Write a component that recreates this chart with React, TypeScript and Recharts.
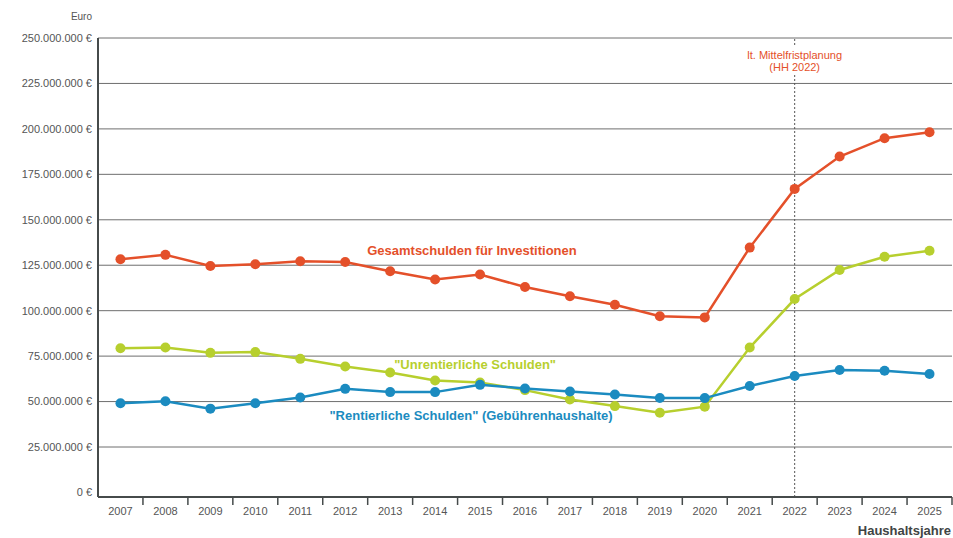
import React from 'react';
import { LineChart, Line, XAxis, YAxis, ReferenceLine, ReferenceDot } from 'recharts';

const years = ['2007', '2008', '2009', '2010', '2011', '2012', '2013', '2014', '2015', '2016', '2017', '2018', '2019', '2020', '2021', '2022', '2023', '2024', '2025'];
// values in million euro
const gesamt = [128.3, 130.7, 124.6, 125.5, 127.2, 126.8, 121.7, 117.1, 119.9, 113.0, 107.9, 103.3, 96.9, 96.3, 134.7, 167.0, 184.8, 194.9, 198.2];
const unrentierlich = [79.3, 79.7, 76.8, 77.2, 73.5, 69.3, 66.0, 61.6, 60.5, 56.3, 51.1, 47.5, 43.8, 47.2, 79.7, 106.4, 122.4, 129.7, 133.0];
const rentierlich = [49.1, 50.2, 46.1, 49.1, 52.2, 57.0, 55.2, 55.2, 59.2, 57.2, 55.5, 53.9, 52.0, 51.9, 58.6, 64.1, 67.4, 67.0, 65.2];
const yTicks = [0, 25e6, 50e6, 75e6, 100e6, 125e6, 150e6, 175e6, 200e6, 225e6, 250e6];

const RED = '#e4502a';
const GREEN = '#b7cf2e';
const BLUE = '#1b8bc0';
const AXIS = '#464b4b';
const GRID = '#6e6e6e';
const TICK = '#555';

const data = years.map((y, i) => ({
  idx: i,
  year: y,
  gesamt: gesamt[i] * 1e6,
  unrentierlich: unrentierlich[i] * 1e6,
  rentierlich: rentierlich[i] * 1e6,
}));
const centerTicks = years.map((_, i) => i);
const sepTicks = years.map((_, i) => i + 0.5);

const fmt = (v: number) =>
  String(Math.round(v)).replace(/\B(?=(\d{3})+(?!\d))/g, '.') + ' €';

const AnnLabel = (props: any) => {
  const vb = props.viewBox || {};
  const x = vb.x;
  const y = vb.y;
  return (
    <g>
      <rect x={x - 50} y={y + 9} width={100} height={28} fill="#fff" />
      <text x={x} y={y + 21} textAnchor="middle" fill={RED} fontSize={11}>lt. Mittelfristplanung</text>
      <text x={x} y={y + 33} textAnchor="middle" fill={RED} fontSize={11}>(HH 2022)</text>
    </g>
  );
};

const EuroLabel = (props: any) => {
  const vb = props.viewBox || {};
  return (
    <text x={vb.x + vb.width - 6} y={vb.y - 18} textAnchor="end" fill={TICK} fontSize={10}>Euro</text>
  );
};

const XTitle = (props: any) => {
  const vb = props.viewBox || {};
  return (
    <text x={vb.x + vb.width - 1} y={vb.y + vb.height - 3} textAnchor="end" fill="#3f4444" fontSize={13} fontWeight="bold">Haushaltsjahre</text>
  );
};

export default function App() {
  return (
    <div style={{ position: 'absolute', left: 0, top: 0, fontFamily: '"Liberation Sans", Arial, sans-serif' }}>
      <LineChart width={953} height={538} data={data} margin={{ top: 38, right: 1, bottom: 0, left: 0 }}>
        <XAxis
          xAxisId="main"
          dataKey="idx"
          type="number"
          domain={[-0.5, 18.5]}
          ticks={centerTicks}
          tickFormatter={(i: number) => years[i]}
          tickLine={false}
          tickSize={0}
          tickMargin={9}
          height={40}
          axisLine={false}
          interval={0}
          tick={{ fill: TICK, fontSize: 11 }}
          label={<XTitle />}
        />
        <XAxis
          xAxisId="axsep"
          dataKey="idx"
          type="number"
          domain={[-0.5, 18.5]}
          ticks={sepTicks}
          tickFormatter={() => ''}
          tickSize={8}
          height={1}
          axisLine={{ stroke: AXIS, strokeWidth: 2 }}
          tickLine={{ stroke: AXIS, strokeWidth: 1.5 }}
          interval={0}
        />
        <YAxis
          domain={[-2.5e6, 250e6]}
          ticks={yTicks}
          tickFormatter={fmt}
          width={98}
          tickSize={0}
          tickMargin={6}
          tickLine={false}
          axisLine={{ stroke: AXIS, strokeWidth: 2 }}
          tick={{ fill: TICK, fontSize: 11 }}
          interval={0}
          label={<EuroLabel />}
        />
        {yTicks.filter((v) => v > 0).map((v) => (
          <ReferenceLine key={v} xAxisId="main" y={v} stroke={GRID} strokeWidth={1} />
        ))}
        <ReferenceLine xAxisId="main" x={15} stroke="#555" strokeDasharray="2 2" strokeWidth={1} label={<AnnLabel />} />
        <Line xAxisId="main" dataKey="gesamt" stroke={RED} strokeWidth={2.5} dot={{ r: 5, fill: RED, stroke: RED, strokeWidth: 0 }} activeDot={false} isAnimationActive={false} />
        <Line xAxisId="main" dataKey="unrentierlich" stroke={GREEN} strokeWidth={2.5} dot={{ r: 5, fill: GREEN, stroke: GREEN, strokeWidth: 0 }} activeDot={false} isAnimationActive={false} />
        <Line xAxisId="main" dataKey="rentierlich" stroke={BLUE} strokeWidth={2.5} dot={{ r: 5, fill: BLUE, stroke: BLUE, strokeWidth: 0 }} activeDot={false} isAnimationActive={false} />
        <ReferenceDot xAxisId="main" x={7.82} y={133e6} r={0} fill="none" stroke="none"
          label={{ value: 'Gesamtschulden für Investitionen', position: 'center', fill: RED, fontSize: 13, fontWeight: 'bold' }} />
        <ReferenceDot xAxisId="main" x={7.89} y={70.3e6} r={0} fill="none" stroke="none"
          label={{ value: '"Unrentierliche Schulden"', position: 'center', fill: GREEN, fontSize: 13, fontWeight: 'bold' }} />
        <ReferenceDot xAxisId="main" x={7.8} y={42.2e6} r={0} fill="none" stroke="none"
          label={{ value: '"Rentierliche Schulden" (Gebührenhaushalte)', position: 'center', fill: BLUE, fontSize: 13, fontWeight: 'bold' }} />
      </LineChart>
    </div>
  );
}
